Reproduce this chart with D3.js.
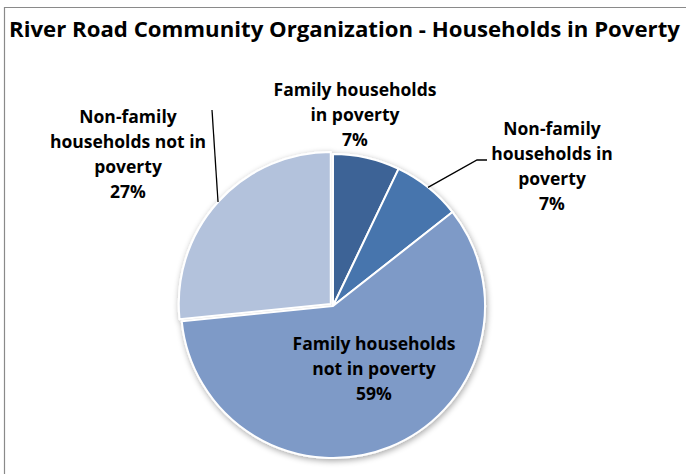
<!DOCTYPE html>
<html><head><meta charset="utf-8">
<script src="https://cdn.jsdelivr.net/npm/d3@7/dist/d3.min.js"></script>
<style>
body{margin:0;background:#fff;}
svg text{font-family:"Open Sans","Noto Sans",sans-serif;font-weight:bold;fill:#000;}
</style>
</head><body>
<svg id="chart" width="686" height="474"></svg>
<script>
// ---- data ----
const title = "River Road Community Organization - Households in Poverty";
const categories = ["Family households in poverty", "Non-family households in poverty", "Family households not in poverty", "Non-family households not in poverty"];
const labelLines = [["Family households", "in poverty"], ["Non-family", "households in", "poverty"], ["Family households", "not in poverty"], ["Non-family", "households not in", "poverty"]];
const values = [7.1, 7.3, 59.0, 26.6];
const palette = ["#3E6496", "#4675AD", "#7E9AC7", "#B3C2DC"];

// ---- layout ----
const W = 686, H = 474;
const cx = 333, cy = 306, R = 152;
const explode = [0, 0, 0, 3];
// label block offsets relative to pie centre (first-line baseline)
const labelAt = [[22, -210], [219, -171], [41, 44], [-205, -183]];
const lineH = 25;
// leader line end points relative to label position
const leaders = [null, [[-75, 25], [-65, 25]], null, [[84, -13]]];

const svg = d3.select("#chart");

// frame
svg.append("path").attr("d", `M4.5,${H} L4.5,7.5 L${W},7.5`)
  .attr("fill", "none").attr("stroke", "#8a8a8a").attr("stroke-width", 1.2);

svg.append("text").attr("x", 344.5).attr("y", 37).attr("text-anchor", "middle")
  .style("font-size", "22.2px").text(title);

const defs = svg.append("defs");
const f = defs.append("filter").attr("id", "sh").attr("x", "-20%").attr("y", "-20%").attr("width", "140%").attr("height", "140%");
f.append("feGaussianBlur").attr("in", "SourceAlpha").attr("stdDeviation", 3);
f.append("feOffset").attr("dx", 1).attr("dy", 2).attr("result", "b");
f.append("feComponentTransfer").append("feFuncA").attr("type", "linear").attr("slope", 0.35);
const m = f.append("feMerge"); m.append("feMergeNode"); m.append("feMergeNode").attr("in", "SourceGraphic");

const pie = d3.pie().sort(null).value(d => d)(values);
const arc = d3.arc().innerRadius(0).outerRadius(R);
const total = d3.sum(values);

const g = svg.append("g").attr("transform", `translate(${cx},${cy})`).attr("filter", "url(#sh)");
g.selectAll("path").data(pie).join("path")
  .attr("d", arc)
  .attr("transform", (d, i) => {
    const a = (d.startAngle + d.endAngle) / 2;
    return `translate(${explode[i] * Math.sin(a)},${-explode[i] * Math.cos(a)})`;
  })
  .attr("fill", (d, i) => palette[i])
  .attr("stroke", "#fff").attr("stroke-width", 2).attr("stroke-linejoin", "round");

const lg = svg.append("g").attr("transform", `translate(${cx},${cy})`);
pie.forEach((d, i) => {
  const [lx, ly] = labelAt[i];
  const lines = labelLines[i].concat([Math.round(d.value / total * 100) + "%"]);
  const t = lg.append("text").attr("text-anchor", "middle").style("font-size", "17.5px");
  lines.forEach((s, k) => t.append("tspan").attr("x", lx).attr("y", ly + k * lineH).text(s));
  if (leaders[i]) {
    const a = (d.startAngle + d.endAngle) / 2;
    const pts = [[(R + explode[i]) * Math.sin(a), -(R + explode[i]) * Math.cos(a)]]
      .concat(leaders[i].map(p => [lx + p[0], ly + p[1]]));
    lg.append("path").attr("d", d3.line()(pts)).attr("fill", "none")
      .attr("stroke", "#000").attr("stroke-width", 1.3);
  }
});
</script>
</body></html>
